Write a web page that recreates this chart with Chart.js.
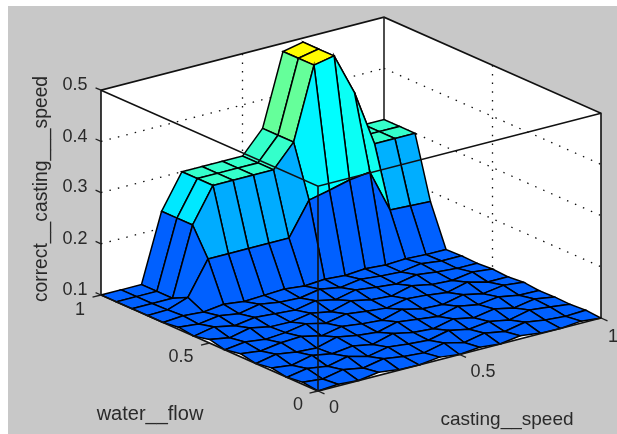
<!DOCTYPE html>
<html>
<head>
<meta charset="utf-8">
<title>correct casting speed surface</title>
<script src="https://cdn.jsdelivr.net/npm/chart.js@4"></script>
<style>
  html, body { margin: 0; padding: 0; background: #fff; overflow: hidden; }
  #panel { position: absolute; left: 8px; top: 6px; width: 609px; height: 428px; background: #c8c8c8; }
  #surface { position: absolute; left: 0; top: 0; filter: blur(0.35px); }
</style>
</head>
<body>
<div id="panel"></div>
<canvas id="surface" width="617" height="434"></canvas>
<script>
// Grid of the fuzzy surface
const castingSpeed = [0, 0.071, 0.143, 0.214, 0.286, 0.357, 0.429, 0.5, 0.571, 0.643, 0.714, 0.786, 0.857, 0.929, 1];
const waterFlow = [0, 0.071, 0.143, 0.214, 0.286, 0.357, 0.429, 0.5, 0.571, 0.643, 0.714, 0.786, 0.857, 0.929, 1];

// correct_casting_speed, one row per waterFlow value
const row00 = [0.100, 0.103, 0.100, 0.106, 0.101, 0.100, 0.105, 0.100, 0.104, 0.100, 0.106, 0.101, 0.100, 0.104, 0.100];
const row01 = [0.104, 0.100, 0.108, 0.101, 0.109, 0.103, 0.100, 0.109, 0.100, 0.108, 0.101, 0.109, 0.103, 0.100, 0.102];
const row02 = [0.100, 0.107, 0.101, 0.110, 0.100, 0.108, 0.104, 0.101, 0.110, 0.102, 0.107, 0.100, 0.109, 0.105, 0.100];
const row03 = [0.105, 0.100, 0.109, 0.102, 0.107, 0.100, 0.111, 0.103, 0.100, 0.109, 0.101, 0.108, 0.100, 0.107, 0.101];
const row04 = [0.100, 0.108, 0.102, 0.100, 0.111, 0.104, 0.100, 0.110, 0.105, 0.100, 0.110, 0.103, 0.108, 0.101, 0.100];
const row05 = [0.106, 0.101, 0.107, 0.109, 0.100, 0.108, 0.103, 0.100, 0.111, 0.102, 0.100, 0.109, 0.101, 0.107, 0.103];
const row06 = [0.100, 0.105, 0.100, 0.103, 0.110, 0.101, 0.109, 0.104, 0.100, 0.108, 0.105, 0.100, 0.110, 0.100, 0.100];
const row07 = [0.107, 0.100, 0.109, 0.101, 0.100, 0.107, 0.100, 0.111, 0.103, 0.100, 0.110, 0.102, 0.100, 0.106, 0.102];
const row08 = [0.100, 0.108, 0.100, 0.106, 0.103, 0.100, 0.108, 0.100, 0.109, 0.104, 0.100, 0.108, 0.103, 0.100, 0.100];
const row09 = [0.104, 0.100, 0.106, 0.100, 0.108, 0.102, 0.100, 0.107, 0.100, 0.106, 0.102, 0.100, 0.106, 0.101, 0.101];
const row10 = [0.100, 0.103, 0.100, 0.105, 0.100, 0.102, 0.104, 0.100, 0.103, 0.100, 0.103, 0.100, 0.102, 0.100, 0.100];
const row11 = [0.100, 0.101, 0.115, 0.180, 0.180, 0.180, 0.180, 0.180, 0.244, 0.253, 0.263, 0.268, 0.184, 0.182, 0.180];
const row12 = [0.100, 0.100, 0.100, 0.233, 0.300, 0.300, 0.300, 0.300, 0.344, 0.484, 0.492, 0.410, 0.300, 0.300, 0.300];
const row13 = [0.100, 0.100, 0.100, 0.233, 0.300, 0.300, 0.300, 0.300, 0.344, 0.484, 0.492, 0.410, 0.300, 0.300, 0.300];
const row14 = [0.100, 0.100, 0.100, 0.233, 0.300, 0.300, 0.300, 0.300, 0.344, 0.484, 0.492, 0.410, 0.300, 0.300, 0.300];
const correctSpeed = [row00, row01, row02, row03, row04, row05, row06, row07, row08, row09, row10, row11, row12, row13, row14];

const xTicks = [0, 0.5, 1];
const yTicks = [0, 0.5, 1];
const zTicks = [0.1, 0.2, 0.3, 0.4, 0.5];

// View: where the floor corners land and how tall the box is
const frontCorner = { x: 318, y: 391 };
const xEdge = { x: 283, y: -73 };
const yEdge = { x: -217, y: -96 };
const zPerUnit = 512;
const zBase = 0.1;

function project(x, y, z) {
  return {
    x: frontCorner.x + x * xEdge.x + y * yEdge.x,
    y: frontCorner.y + x * xEdge.y + y * yEdge.y - (z - zBase) * zPerUnit
  };
}

// jet colormap, the floor wobble all stays in the same blue
function jet(z) {
  const t = 0.219 + 1.1 * Math.max(0, z - 0.112);
  const band = c => Math.round(255 * Math.max(0, Math.min(1, c)));
  const r = band(Math.min(4 * t - 1.5, -4 * t + 4.5));
  const g = band(Math.min(4 * t - 0.5, -4 * t + 3.5));
  const b = band(Math.min(4 * t + 0.5, -4 * t + 2.5));
  return `rgb(${r},${g},${b})`;
}

const layers = [];

function addFill(points, color, edge, width) {
  layers.push({
    data: points, showLine: true, pointRadius: 0, tension: 0,
    fill: 'shape', backgroundColor: color,
    borderColor: edge, borderWidth: width
  });
}

function addLine(points, color, width, dash) {
  layers.push({
    data: points, showLine: true, pointRadius: 0, tension: 0,
    fill: false, borderColor: color, borderWidth: width,
    borderDash: dash || []
  });
}

// white box behind everything
addFill([
  project(0, 1, 0.5), project(1, 1, 0.5), project(1, 0, 0.5), project(1, 0, 0.1),
  project(0, 0, 0.1), project(0, 1, 0.1), project(0, 1, 0.5)
], '#fff', '#fff', 0);

// dotted grid on the two back walls
const dots = [1.5, 7.2];
zTicks.slice(1, 4).forEach(z => {
  addLine([project(0, 1, z), project(1, 1, z)], '#111', 1.3, dots);
  addLine([project(1, 1, z), project(1, 0, z)], '#111', 1.3, dots);
});
addLine([project(0.5, 1, 0.5), project(0.5, 1, 0.1)], '#111', 1.3, dots);
addLine([project(1, 0.5, 0.5), project(1, 0.5, 0.1)], '#111', 1.3, dots);

// back edges of the box
addLine([project(0, 1, 0.1), project(0, 1, 0.5), project(1, 1, 0.5), project(1, 0, 0.5), project(1, 0, 0.1)], '#111', 1.6);
addLine([project(1, 1, 0.5), project(1, 1, 0.1)], '#222', 1.6);

// surface cells, far ones first
for (let j = waterFlow.length - 2; j >= 0; j--) {
  for (let i = castingSpeed.length - 2; i >= 0; i--) {
    const cell = [
      project(castingSpeed[i], waterFlow[j], correctSpeed[j][i]),
      project(castingSpeed[i + 1], waterFlow[j], correctSpeed[j][i + 1]),
      project(castingSpeed[i + 1], waterFlow[j + 1], correctSpeed[j + 1][i + 1]),
      project(castingSpeed[i], waterFlow[j + 1], correctSpeed[j + 1][i]),
      project(castingSpeed[i], waterFlow[j], correctSpeed[j][i])
    ];
    addFill(cell, jet(correctSpeed[j][i]), '#000', 1.5);
  }
}

// front edges of the box and the floor outline
addLine([project(0, 1, 0.5), project(0, 0, 0.5), project(1, 0, 0.5)], '#111', 1.6);
addLine([project(0, 0, 0.5), project(0, 0, 0.1)], '#111', 1.6);
addLine([project(0, 1, 0.1), project(0, 0, 0.1), project(1, 0, 0.1)], '#111', 1.8);

// tick marks
xTicks.forEach(x => addLine([project(x, 0, 0.1), project(x, -0.03, 0.1)], '#222', 1.3));
yTicks.forEach(y => addLine([project(0, y, 0.1), project(-0.03, y, 0.1)], '#222', 1.3));
zTicks.forEach(z => addLine([project(0, 1, z), project(0, 1.025, z)], '#222', 1.3));

// Chart.js paints the last dataset first
const datasets = layers.slice().reverse();

const labels = [
  { text: '0.5', x: 75, y: 85, size: 18 },
  { text: '0.4', x: 75, y: 137, size: 18 },
  { text: '0.3', x: 75, y: 187, size: 18 },
  { text: '0.2', x: 75, y: 239, size: 18 },
  { text: '0.1', x: 75, y: 290, size: 18 },
  { text: '1', x: 80, y: 310, size: 18 },
  { text: '0.5', x: 181, y: 357, size: 18 },
  { text: '0', x: 298, y: 405, size: 18 },
  { text: '0', x: 334, y: 408, size: 18 },
  { text: '0.5', x: 483, y: 372, size: 18 },
  { text: '1', x: 613, y: 337, size: 18 },
  { text: 'water__flow', x: 150, y: 414, size: 20 },
  { text: 'casting__speed', x: 507, y: 420, size: 19 }
];

const textPlugin = {
  id: 'axisText',
  afterDraw(chart) {
    const ctx = chart.ctx;
    const sx = chart.scales.x;
    const sy = chart.scales.y;
    ctx.save();
    ctx.fillStyle = '#2a2a2a';
    ctx.textAlign = 'center';
    ctx.textBaseline = 'middle';
    labels.forEach(l => {
      ctx.font = l.size + 'px "Liberation Sans", Arial, sans-serif';
      ctx.fillText(l.text, sx.getPixelForValue(l.x), sy.getPixelForValue(l.y));
    });
    ctx.translate(sx.getPixelForValue(42), sy.getPixelForValue(189));
    ctx.rotate(-Math.PI / 2);
    ctx.font = '19.3px "Liberation Sans", Arial, sans-serif';
    ctx.fillText('correct__casting___speed', 0, 0);
    ctx.restore();
  }
};

new Chart(document.getElementById('surface').getContext('2d'), {
  type: 'scatter',
  data: { datasets },
  options: {
    responsive: false,
    animation: false,
    layout: { padding: 0 },
    plugins: { legend: { display: false }, tooltip: { enabled: false } },
    scales: {
      x: { type: 'linear', min: 0, max: 617, display: false },
      y: { type: 'linear', min: 0, max: 434, reverse: true, display: false }
    }
  },
  plugins: [textPlugin]
});
</script>
</body>
</html>
